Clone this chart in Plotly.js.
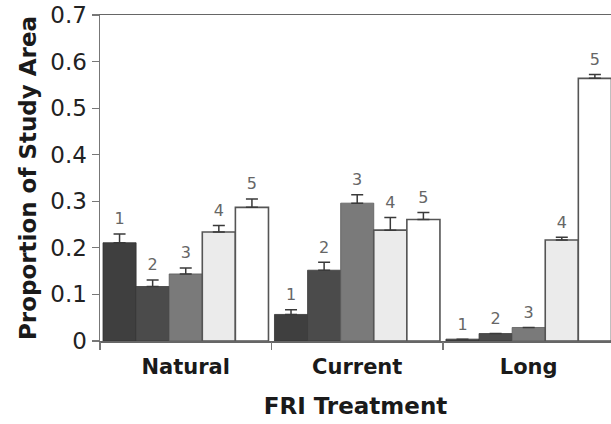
<!DOCTYPE html>
<html>
<head>
<meta charset="utf-8">
<script src="https://cdn.plot.ly/plotly-3.0.1.min.js"></script>
<style>html,body{margin:0;padding:0;background:#fff;overflow:hidden}#chart{width:611px;height:424px}</style>
</head>
<body>
<div id="chart"></div>
<script>
// Data
const groups = ["Natural", "Current", "Long"];
const classLabels = ["1", "2", "3", "4", "5"];
const class1 = [0.211, 0.057, 0.004];
const class2 = [0.117, 0.152, 0.016];
const class3 = [0.144, 0.296, 0.029];
const class4 = [0.234, 0.238, 0.217];
const class5 = [0.287, 0.261, 0.564];
const err1 = [0.019, 0.010, 0.0];
const err2 = [0.014, 0.017, 0.0];
const err3 = [0.013, 0.018, 0.0];
const err4 = [0.014, 0.027, 0.006];
const err5 = [0.018, 0.015, 0.008];

const series = [class1, class2, class3, class4, class5];
const errs = [err1, err2, err3, err4, err5];
const fills = ["#3f3f3f", "#4b4b4b", "#7a7a7a", "#ebebeb", "#ffffff"];
const lines = ["#333333", "#3a3a3a", "#5a5a5a", "#555555", "#555555"];
const FONT = "'DejaVu Sans', Arial, sans-serif";

const w = 0.193;
const gx = groups.map((g, i) => i);
const traces = [];
series.forEach((vals, k) => {
  const xs = gx.map(i => i + (k - 2) * w);
  traces.push({
    type: "bar", x: xs, y: vals, width: w,
    marker: {color: fills[k], line: {color: lines[k], width: k >= 3 ? 1.6 : 0.8}},
    error_y: {type: "data", symmetric: false, array: errs[k], arrayminus: vals.map(() => 0),
      visible: true, color: "#3a3a3a", thickness: 1.5, width: 6},
    hoverinfo: "skip", showlegend: false
  });
});
series.forEach((vals, k) => {
  const xs = gx.map(i => i + (k - 2) * w);
  traces.push({
    type: "scatter", mode: "text", x: xs,
    y: vals.map((v, i) => v + errs[k][i] + 0.012),
    text: gx.map(() => classLabels[k]), textposition: "top center",
    textfont: {family: FONT, size: 16, color: "#666666"},
    cliponaxis: false, hoverinfo: "skip", showlegend: false
  });
});
// invisible trace for the boundary tick axis
traces.push({type: "scatter", x: [0], y: [0], xaxis: "x2", mode: "markers",
  marker: {opacity: 0}, hoverinfo: "skip", showlegend: false});

const xr = [-0.5, 2.48];
const layout = {
  width: 611, height: 424,
  margin: {l: 100, r: 0, t: 15, b: 83},
  paper_bgcolor: "#fff", plot_bgcolor: "#fff",
  barmode: "overlay",
  font: {family: FONT, color: "#222"},
  xaxis: {
    range: xr, tickvals: gx, ticktext: groups, ticks: "", ticklabelstandoff: 6,
    tickfont: {size: 21, color: "#1a1a1a", weight: "bold"},
    showgrid: false, zeroline: false, showline: true, mirror: true,
    linecolor: "#666", linewidth: 1.5,
    title: {text: "FRI Treatment", font: {size: 23, color: "#1a1a1a", weight: "bold"}, standoff: 20}
  },
  xaxis2: {
    overlaying: "x", range: xr, tickvals: [-0.5, 0.5, 1.5, 2.5], ticktext: ["", "", "", ""],
    ticks: "outside", ticklen: 8, tickwidth: 1.2, tickcolor: "#777",
    showgrid: false, zeroline: false, showline: false, side: "bottom", anchor: "y"
  },
  yaxis: {
    range: [0, 0.7], tickvals: [0, 0.1, 0.2, 0.3, 0.4, 0.5, 0.6, 0.7],
    ticktext: ["0", "0.1", "0.2", "0.3", "0.4", "0.5", "0.6", "0.7"],
    ticks: "outside", ticklen: 7, tickwidth: 1.2, tickcolor: "#777",
    tickfont: {size: 23, color: "#222"},
    showgrid: false, zeroline: false, showline: true, linecolor: "#777", linewidth: 1.5,
    title: {text: "Proportion of Study Area", font: {size: 23, color: "#1a1a1a", weight: "bold"}, standoff: 7}
  }
};
Plotly.newPlot("chart", traces, layout, {staticPlot: true, displayModeBar: false});
</script>
</body>
</html>
